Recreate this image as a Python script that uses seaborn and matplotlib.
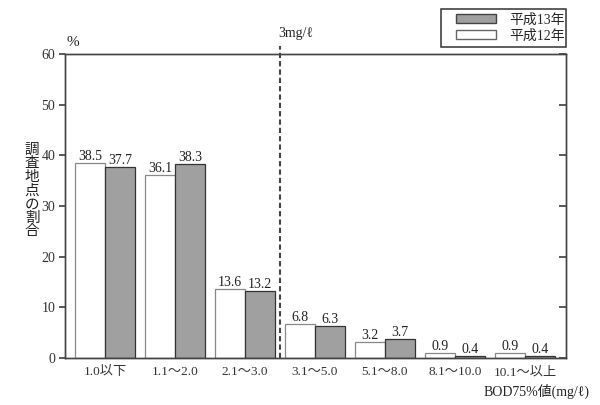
import matplotlib
matplotlib.use("Agg")
import matplotlib.pyplot as plt
import seaborn as sns
import pandas as pd
from matplotlib.patches import Patch, Rectangle

categories = ["1.0以下", "1.1～2.0", "2.1～3.0", "3.1～5.0", "5.1～8.0", "8.1～10.0", "10.1～以上"]
h12 = [38.5, 36.1, 13.6, 6.8, 3.2, 0.9, 0.9]
h13 = [37.7, 38.3, 13.2, 6.3, 3.7, 0.4, 0.4]
series = ["平成12年", "平成13年"]
yticks = [0, 10, 20, 30, 40, 50, 60]

sns.set_theme(style="white")
FONT = ["Liberation Serif", "Noto Sans CJK JP", "DejaVu Sans"]
plt.rcParams["font.family"] = FONT

df = pd.DataFrame({
    "cat": categories * 2,
    "val": h12 + h13,
    "year": [series[0]] * len(categories) + [series[1]] * len(categories),
})

fig = plt.figure(figsize=(6, 4.05), dpi=100)
ax = fig.add_axes([65 / 600, 1 - 358 / 405, (566 - 65) / 600, (358 - 54) / 405])

palette = {series[0]: "#ffffff", series[1]: "#a0a0a0"}
sns.barplot(data=df, x="cat", y="val", hue="year", hue_order=series,
            palette=palette, width=0.86, ax=ax, legend=False,
            edgecolor="#555555", linewidth=0.9, saturation=1)
for p in ax.containers[0]:
    p.set_edgecolor("#888888")
for p in ax.containers[1]:
    p.set_edgecolor("#333333")

for cont, vals in zip(ax.containers, [h12, h13]):
    ax.bar_label(cont, labels=[f"{v:.1f}" for v in vals],
                 padding=0, fontsize=10, color="#222222", family=FONT)

ax.set_xlim(-0.571, 6.586)
ax.set_ylim(0, 60)
ax.set_yticks(yticks)
ax.set_yticklabels([str(t) for t in yticks], fontsize=10, color="#333333")
ax.tick_params(axis="y", direction="out", length=4, color="#444444", pad=3)
ax.tick_params(axis="x", length=0, pad=6)
ax.set_xticklabels(categories, fontsize=9.5, color="#333333")
ax.set_xlabel("")
ax.set_ylabel("")

axr = ax.twinx()
axr.set_ylim(0, 60)
axr.set_yticks(yticks)
axr.set_yticklabels([])
axr.tick_params(axis="y", direction="in", length=5, color="#444444")

for a in (ax, axr):
    for s in a.spines.values():
        s.set_color("#444444")
        s.set_linewidth(1.0)

ax.axvline(2.5, ymin=0, ymax=1.025, color="#444444", linestyle=(0, (2.5, 1.5)),
           linewidth=1.5, clip_on=False)
fig.text(296 / 600, 1 - 33 / 405, "3mg/ℓ", ha="center", va="center", fontsize=10, color="#222222")

fig.text(73 / 600, 1 - 43 / 405, "%", ha="center", va="center", fontsize=11, color="#222222")
fig.text(32 / 600, 1 - 191 / 405, "\n".join("調査地点の割合"), ha="center", va="center",
         fontsize=10.5, color="#222222", linespacing=1.05)
fig.text(590 / 600, 1 - 391 / 405, "BOD75%値(mg/ℓ)", ha="right", va="center",
         fontsize=10, color="#222222")

handles = [Patch(facecolor="#a0a0a0", edgecolor="#444444", label=series[1]),
           Patch(facecolor="#ffffff", edgecolor="#666666", label=series[0])]
fig.legend(handles=handles, loc="center left",
           bbox_to_anchor=(456 / 600, 1 - 28 / 405), frameon=False,
           fontsize=10, handlelength=2.9, handleheight=0.6,
           borderpad=0, labelspacing=0.2, handletextpad=0.9, borderaxespad=0)
fig.add_artist(Rectangle((441 / 600, 1 - 47 / 405), 125 / 600, 38 / 405,
                         transform=fig.transFigure, fill=False,
                         edgecolor="#333333", linewidth=1.1))

fig.savefig("out.png", dpi=100)
